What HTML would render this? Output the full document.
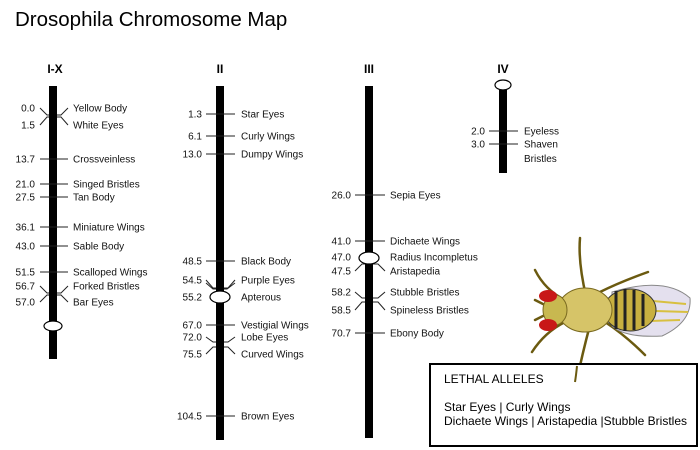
<!DOCTYPE html>
<html><head><meta charset="utf-8"><style>
html,body{margin:0;padding:0;background:#fff;}
svg{display:block;font-family:"Liberation Sans",Arial,sans-serif;}
.l{font-size:10px;fill:#111;}
.h{font-size:12px;font-weight:bold;fill:#000;}
</style></head><body>
<svg id="s" width="700" height="450" viewBox="0 0 700 450" xmlns="http://www.w3.org/2000/svg">
<text x="15" y="26" font-size="20.5" fill="#000">Drosophila Chromosome Map</text>
<text class="h" x="55" y="73" text-anchor="middle">I-X</text>
<text class="h" x="220" y="73" text-anchor="middle">II</text>
<text class="h" x="369" y="73" text-anchor="middle">III</text>
<text class="h" x="503" y="73" text-anchor="middle">IV</text>
<rect x="49" y="86" width="8" height="273" fill="#000"/>
<rect x="216" y="86" width="8" height="354" fill="#000"/>
<rect x="365" y="86" width="8" height="352" fill="#000"/>
<rect x="499" y="90" width="8" height="83" fill="#000"/>
<g id="g" stroke="#222" stroke-width="1" fill="none"></g>
<g id="t"></g>
<ellipse cx="53" cy="326" rx="9" ry="5" fill="#fff" stroke="#000" stroke-width="1.2"/>
<ellipse cx="220" cy="297" rx="10" ry="6" fill="#fff" stroke="#000" stroke-width="1.2"/>
<ellipse cx="369" cy="258" rx="10" ry="6" fill="#fff" stroke="#000" stroke-width="1.2"/>
<ellipse cx="503" cy="85" rx="8" ry="5" fill="#fff" stroke="#000" stroke-width="1.2"/>
<!-- fly -->
<g>
<g stroke="#6b5a10" stroke-width="2.5" fill="none" stroke-linecap="round">
<path d="M586,296 Q578,262 580,238"/>
<path d="M565,300 Q545,290 535,270"/>
<path d="M600,292 Q620,282 648,272"/>
<path d="M565,322 Q545,332 532,352"/>
<path d="M590,325 Q582,355 577,380"/>
<path d="M605,322 Q625,335 645,355"/>
<path d="M545,305 L535,300 M545,315 L535,320"/>
</g>
<path d="M612,292 Q665,276 690,298 Q692,322 662,336 Q625,338 612,326 Z" fill="#e4e0ee" stroke="#888" stroke-width="1"/>
<path d="M620,298 L686,304 M620,322 L680,320 M625,310 L688,312" stroke="#d8c040" stroke-width="2"/>
<ellipse cx="630" cy="310" rx="26" ry="21" fill="#c8b040" stroke="#333"/>
<g stroke="#222" stroke-width="3"><line x1="616" y1="291" x2="616" y2="329"/><line x1="625" y1="289" x2="625" y2="331"/><line x1="634" y1="290" x2="634" y2="330"/><line x1="643" y1="294" x2="643" y2="326"/></g>
<ellipse cx="585" cy="310" rx="27" ry="22" fill="#d6c468" stroke="#7a6a20"/>
<ellipse cx="555" cy="310" rx="12" ry="15" fill="#c8b850" stroke="#7a6a20"/>
<ellipse cx="548" cy="296" rx="9" ry="6" fill="#c81818"/>
<ellipse cx="548" cy="325" rx="9" ry="6" fill="#c81818"/>
</g>
<rect x="430" y="364" width="267" height="82" fill="#fff" stroke="#000" stroke-width="2"/>
<path d="M577,366 Q576,376 575,382" stroke="#6b5a10" stroke-width="2" fill="none"/>
<text x="444" y="383" font-size="12" fill="#000">LETHAL ALLELES</text>
<text x="444" y="411" font-size="12" fill="#000">Star Eyes | Curly Wings</text>
<text x="444" y="425" font-size="12" fill="#000">Dichaete Wings | Aristapedia |Stubble Bristles</text>
</svg>
<script>
var g=document.getElementById('g'),t=document.getElementById('t'),NS="http://www.w3.org/2000/svg";
function el(p,tag,a,txt){var e=document.createElementNS(NS,tag);for(var k in a)e.setAttribute(k,a[k]);if(txt)e.textContent=txt;p.appendChild(e);}
var C=[
{b:49,ne:35,tl:40,tr:68,lx:73,items:[
["0.0","Yellow Body",108,"u",115],["1.5","White Eyes",125,"d",117],["13.7","Crossveinless",159],["21.0","Singed Bristles",184],["27.5","Tan Body",197],["36.1","Miniature Wings",227],["43.0","Sable Body",246],["51.5","Scalloped Wings",272],["56.7","Forked Bristles",286,"u",293],["57.0","Bar Eyes",302,"d",295]]},
{b:216,ne:202,tl:206,tr:235,lx:241,items:[
["1.3","Star Eyes",114],["6.1","Curly Wings",136],["13.0","Dumpy Wings",154],["48.5","Black Body",261],["54.5","Purple Eyes",280,"u",288],["55.2","Apterous",297,"n"],["67.0","Vestigial Wings",325],["72.0","Lobe Eyes",337,"u",342],["75.5","Curved Wings",354,"d",347],["104.5","Brown Eyes",416]]},
{b:365,ne:351,tl:355,tr:385,lx:390,items:[
["26.0","Sepia Eyes",195],["41.0","Dichaete Wings",241],["47.0","Radius Incompletus",257,"n"],["47.5","Aristapedia",271,"d",264],["58.2","Stubble Bristles",292,"u",298],["58.5","Spineless Bristles",310,"d",302],["70.7","Ebony Body",333]]},
{b:499,ne:485,tl:489,tr:518,lx:524,items:[["2.0","Eyeless",131],["3.0","Shaven",144]]}
];
C.forEach(function(c){c.items.forEach(function(it){
var y=it[2];
el(t,'text',{class:'l',x:c.ne,y:y+3.5,'text-anchor':'end'},it[0]);
el(t,'text',{class:'l',x:c.lx,y:y+3.5},it[1]);
if(!it[3]){el(g,'line',{x1:c.tl,y1:y,x2:c.tr,y2:y});}
else if(it[3]=="n"){ if(it[0]=="55.2"){} }
else{var m=it[4];
el(g,'path',{d:'M'+c.tl+','+y+' L'+(c.tl+7)+','+m+' L'+c.b+','+m+' M'+(c.b+8)+','+m+' L'+(c.tr-7)+','+m+' L'+c.tr+','+y});}
});});
el(g,'path',{d:'M206,283 L213,289 L216,289 M224,289 L227,289 L235,283'});
el(t,'text',{class:'l',x:524,y:162},"Bristles");
</script>
</body></html>
